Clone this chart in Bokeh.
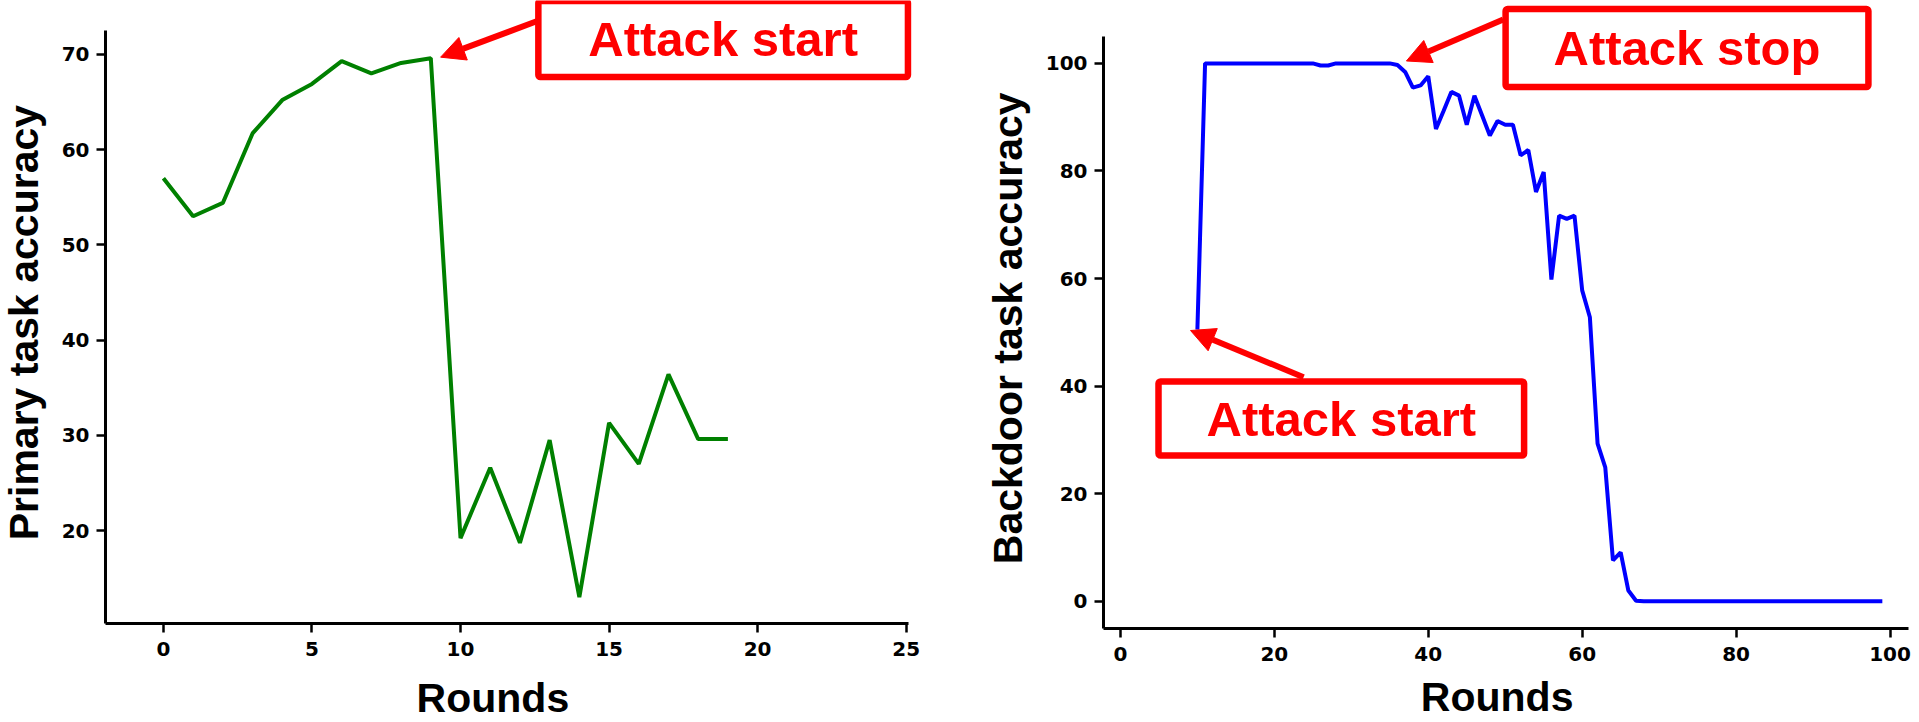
import math
from bokeh.plotting import figure
from bokeh.models import Range1d, Label, Arrow, NormalHead, FixedTicker
from bokeh.layouts import row
from bokeh.embed import file_html
from bokeh.resources import INLINE

# ---------------- data ----------------
primary_rounds = list(range(20))
primary_acc = [57.0, 53.0, 54.4, 61.7, 65.2, 66.9, 69.3, 68.0, 69.1, 69.6,
               19.2, 26.6, 18.7, 29.5, 13.0, 31.3, 27.0, 36.4, 29.6, 29.6]

backdoor_rounds = list(range(10, 100))
backdoor_acc = [
    50.5,
    100.0, 100.0, 100.0, 100.0, 100.0, 100.0, 100.0, 100.0, 100.0, 100.0,
    100.0, 100.0, 100.0, 100.0, 100.0,
    99.6, 99.6,
    100.0, 100.0, 100.0, 100.0, 100.0, 100.0, 100.0, 100.0,
    99.7, 98.4, 95.5, 95.9, 97.6, 87.8, 91.2, 94.7, 94.0, 88.6,
    94.0, 90.3, 86.6, 89.3, 88.6, 88.6, 82.9, 83.9, 76.1, 79.8,
    59.8, 71.7, 71.1, 71.7, 57.8, 52.8, 29.3, 24.9, 7.6, 9.1,
    2.0, 0.1,
    0.0, 0.0, 0.0, 0.0, 0.0, 0.0, 0.0, 0.0, 0.0, 0.0,
    0.0, 0.0, 0.0, 0.0, 0.0, 0.0, 0.0, 0.0, 0.0, 0.0,
    0.0, 0.0, 0.0, 0.0, 0.0, 0.0, 0.0, 0.0, 0.0, 0.0,
    0.0, 0.0,
]

left_xticks = [0, 5, 10, 15, 20, 25]
left_yticks = [20, 30, 40, 50, 60, 70]
right_xticks = [0, 20, 40, 60, 80, 100]
right_yticks = [0, 20, 40, 60, 80, 100]

x_title = "Rounds"
left_y_title = "Primary task accuracy"
right_y_title = "Backdoor task accuracy"
start_text = "Attack start"
stop_text = "Attack stop"

RED = "#ff0000"
LABEL_FONT = "Liberation Sans"
TICK_FONT = "DejaVu Sans"


def make_fig(width, xr, yr, xbounds, ybounds, xticks, yticks):
    p = figure(width=width, height=722, x_range=Range1d(*xr), y_range=Range1d(*yr),
               output_backend="svg", toolbar_location=None,
               min_border=0, min_border_left=0, min_border_right=0,
               min_border_top=0, min_border_bottom=0)
    p.xgrid.visible = False
    p.ygrid.visible = False
    p.outline_line_color = None
    p.xaxis.ticker = FixedTicker(ticks=xticks)
    p.yaxis.ticker = FixedTicker(ticks=yticks)
    p.xaxis.bounds = xbounds
    p.yaxis.bounds = ybounds
    p.xaxis.fixed_location = ybounds[0]
    p.yaxis.fixed_location = xbounds[0]
    for ax in (p.xaxis, p.yaxis):
        ax.axis_line_width = 3
        ax.axis_line_color = "black"
        ax.major_tick_line_width = 2.5
        ax.major_tick_line_color = "black"
        ax.major_tick_in = 0
        ax.major_tick_out = 9
        ax.minor_tick_line_color = None
        ax.major_label_text_font = TICK_FONT
        ax.major_label_text_font_style = "bold"
        ax.major_label_text_font_size = "20px"
        ax.major_label_text_color = "black"
    p.yaxis.major_label_standoff = 7
    p.xaxis.major_label_standoff = 9
    return p


def title_label(p, x, y, text, angle=0.0):
    p.add_layout(Label(x=x, y=y, text=text, angle=angle, text_align="center",
                       text_baseline="alphabetic", text_font=LABEL_FONT,
                       text_font_style="bold", text_font_size="41px", text_color="black"))


def box_label(p, x, y, text, pad):
    p.add_layout(Label(x=x, y=y, text=text, text_align="center", text_baseline="middle",
                       text_font=LABEL_FONT, text_font_style="bold", text_font_size="49px",
                       text_color=RED, border_line_color=RED, border_line_width=6.5,
                       background_fill_color="white", padding=pad, border_radius=2))


def arrow(p, xs, ys, xe, ye):
    p.add_layout(Arrow(end=NormalHead(size=24, fill_color=RED, line_color=RED, line_width=1),
                       x_start=xs, y_start=ys, x_end=xe, y_end=ye,
                       line_color=RED, line_width=6))


# ---------------- left chart ----------------
p1 = make_fig(968, (-5.483, 27.098), (-0.163, 75.66), (-1.95, 25.08), (10.23, 72.51),
              left_xticks, left_yticks)
p1.line(primary_rounds, primary_acc, line_color="#008000", line_width=4)
arrow(p1, 12.63, 73.56, primary_rounds[9] + 0.33, primary_acc[9] + 0.11)
box_label(p1, 18.84, 71.62, start_text, (50, 11))
title_label(p1, 11.09, 2.46, x_title)
title_label(p1, -4.68, 41.83, left_y_title, angle=math.pi / 2)

# ---------------- right chart ----------------
p2 = make_fig(943, (-19.74, 102.79), (-22.53, 111.69), (-2.2, 102.4), (-5.06, 105.0),
              right_xticks, right_yticks)
p2.line(backdoor_rounds, backdoor_acc, line_color="#0000ff", line_width=4)
arrow(p2, 49.74, 108.16, backdoor_rounds[26] + 1.16, backdoor_acc[26] + 0.75)
box_label(p2, 73.62, 102.86, stop_text, (48, 12))
arrow(p2, 23.8, 41.66, backdoor_rounds[0] - 0.89, backdoor_acc[0] - 0.16)
box_label(p2, 28.70, 33.98, start_text, (48, 10))
title_label(p2, 48.95, -17.88, x_title)
title_label(p2, -14.67, 50.75, right_y_title, angle=math.pi / 2)

layout = row(p1, p2)
open("out.html", "w").write(file_html(layout, INLINE))
